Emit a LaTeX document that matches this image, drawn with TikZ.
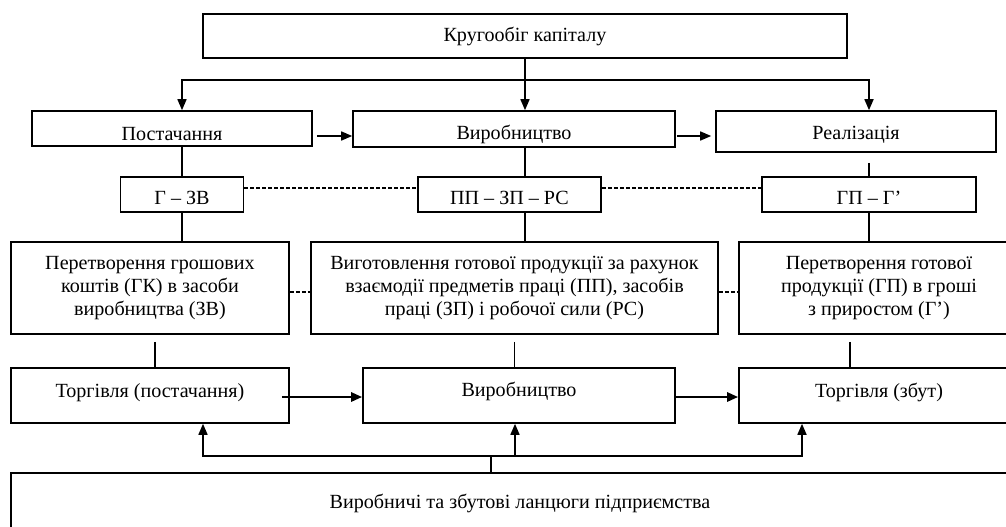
\documentclass[tikz,border=0pt]{standalone}
\usepackage{fontspec}
\setmainfont{Liberation Serif}
\usetikzlibrary{arrows.meta}

\begin{document}
\begin{tikzpicture}[x=1pt, y=-1pt, line width=1.6pt, box/.style={draw, rectangle, inner sep=0pt, align=center, font=\fontsize{20.1}{23.3}\selectfont}, line/.style 2 args={text height=#1, text depth=#2}, arr/.style={-{Triangle[length=11pt,width=9pt]}}, link/.style={dash pattern=on 4pt off 2pt}] %circuit of capital
\useasboundingbox (0,0) rectangle (1006,527);
\clip (0,0) rectangle (1006,527);
\node[box, line={16pt}{4pt}, minimum width=644pt, minimum height=44pt] (cycle) at (525,36) {Кругообіг капіталу};
\node[box, line={23.5pt}{0.5pt}, minimum width=280pt, minimum height=35pt] (supply) at (172,128.5) {Постачання};
\node[box, line={22pt}{2pt}, minimum width=322pt, minimum height=36pt] (making) at (514,129) {Виробництво};
\node[box, line={19.5pt}{4.5pt}, minimum width=280pt, minimum height=41pt] (sales) at (856,131.5) {Реалізація};
\node[box, line={21.5pt}{2.5pt}, minimum width=123pt, minimum height=35pt] (gzv) at (182,194.5) {Г – ЗВ};
\node[box, line={21.5pt}{2.5pt}, minimum width=183pt, minimum height=35pt] (ppzp) at (509.5,194.5) {ПП – ЗП – РС};
\node[box, line={21.5pt}{2.5pt}, minimum width=214pt, minimum height=35pt] (gpg) at (869,194.5) {ГП – Г’};
\node[box, minimum width=278pt, minimum height=92pt] (turnmoney) at (150,288) {Перетворення грошових\\коштів (ГК) в засоби\\виробництва (ЗВ)};
\node[box, minimum width=407pt, minimum height=92pt] (turnmake) at (514.5,288) {Виготовлення готової продукції за рахунок\\взаємодії предметів праці (ПП), засобів\\праці (ЗП) і робочої сили (РС)};
\node[box, minimum width=280pt, minimum height=92pt] (turngoods) at (879,288) {Перетворення готової\\продукції (ГП) в гроші\\з приростом (Г’)};
\node[box, line={13.5pt}{10.5pt}, minimum width=278pt, minimum height=55pt] (buy) at (150,395.5) {Торгівля (постачання)};
\node[box, line={12.5pt}{11.5pt}, minimum width=312pt, minimum height=55pt] (produce) at (519,395.5) {Виробництво};
\node[box, line={13.5pt}{10.5pt}, minimum width=280pt, minimum height=55pt] (sell) at (879,395.5) {Торгівля (збут)};
\node[box, line={17pt}{7pt}, minimum width=1018pt, minimum height=60pt] (chains) at (520,503) {Виробничі та збутові ланцюги підприємства};
\draw (cycle.south) -- ++(0,21) coordinate (bus);
\draw[arr] (bus) -| (gzv.center |- supply.north);
\draw[arr] (bus) -- (bus |- making.north);
\draw[arr] (bus) -| (gpg.center |- sales.north);
\draw[arr] ([xshift=4pt,yshift=-7.5pt]supply.east) coordinate (s) -- (s -| making.west);
\draw[arr] ([xshift=1pt,yshift=-7pt]making.east) coordinate (m) -- ([xshift=-4pt]m -| sales.west);
\draw (gzv.center |- supply.south) -- (gzv.north);
\draw (gzv.south) -- (gzv.south |- turnmoney.north);
\draw (bus |- making.south) -- (bus |- ppzp.north);
\draw (bus |- ppzp.south) -- (bus |- turnmake.north);
\draw (gpg.center |- sales.south) ++(0,10) -- (gpg.north);
\draw (gpg.south) -- (gpg.south |- turngoods.north);
\draw[link] ([yshift=6.5pt]gzv.east) -- ([yshift=6.5pt]ppzp.west);
\draw[link] ([yshift=6.5pt]ppzp.east) -- ([yshift=6.5pt]gpg.west);
\draw[link] ([yshift=-4pt]turnmoney.east) -- ([yshift=-4pt]turnmake.west);
\draw[link] ([yshift=-4pt]turnmake.east) -- ([yshift=-4pt]turngoods.west);
\draw ([xshift=5pt]turnmoney.south) ++(0,7) coordinate (l) -- (l |- buy.north);
\draw (turnmake.south) ++(0,7) coordinate (c) -- (c |- produce.north);
\draw ([xshift=-29pt]turngoods.south) ++(0,7) coordinate (r) -- (r |- sell.north);
\draw[arr, line width=2.6pt] ([xshift=-8pt,yshift=-1.5pt]buy.east) coordinate (b) -- (b -| produce.west);
\draw[arr, line width=2.6pt] ([yshift=-1.5pt]produce.east) coordinate (p) -- (p -| sell.west);
\coordinate (bus2) at (491,456);
\draw (chains.north -| bus2) -- (bus2);
\draw[arr] (bus2) -| ([xshift=53pt]buy.south);
\draw[arr] (bus2) -| ([xshift=-4pt]produce.south);
\draw[arr] (bus2) -| ([xshift=-77pt]sell.south);
\end{tikzpicture}
\end{document}
